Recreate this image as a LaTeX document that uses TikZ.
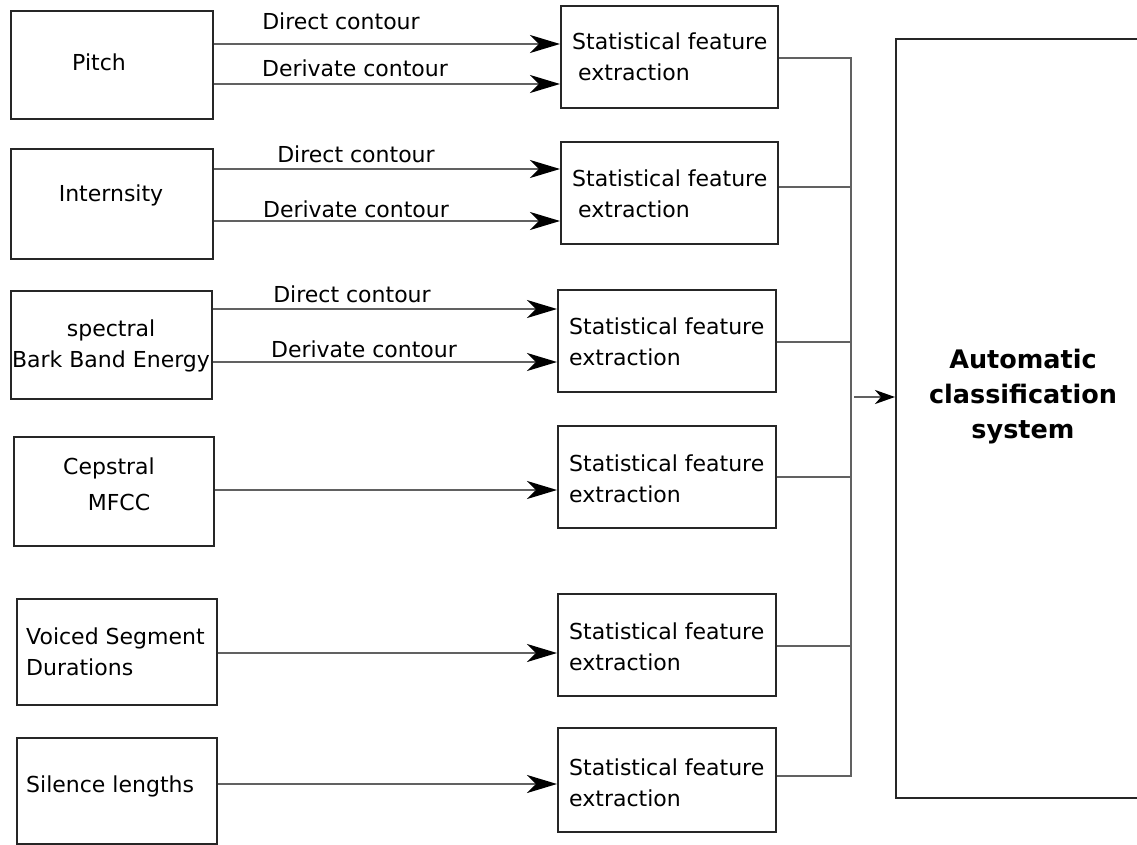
\documentclass[tikz,border=0pt]{standalone}
\usepackage{fontspec}
\setmainfont{DejaVu Sans}
\usetikzlibrary{arrows.meta}
\begin{document}
\begin{tikzpicture}[x=1pt,y=-1pt,
  box/.style={draw=black!85,line width=1.6pt,anchor=north west,inner sep=0pt,minimum width=#1},
  txt/.style={font=\fontsize{22}{31}\selectfont,inner sep=0pt},
  wire/.style={draw=black!62,line width=2.3pt},
  feed/.style={wire,-{Stealth[length=30pt,width=18pt,inset=9pt,color=black]}},
  big/.style={font=\fontsize{25.5}{35}\selectfont\bfseries,align=center,inner sep=0pt}]
\useasboundingbox (0,0) rectangle (1137,845);

% feature sources
\node[box=202pt,minimum height=108pt] (pitch) at (10,10) {};
\node[box=202pt,minimum height=110pt] (inten) at (10,148) {};
\node[box=201pt,minimum height=108pt] (spec)  at (10,290) {};
\node[box=200pt,minimum height=109pt] (ceps)  at (13,436) {};
\node[box=200pt,minimum height=106pt] (voic)  at (16,598) {};
\node[box=200pt,minimum height=106pt] (sil)   at (16,737) {};

\node[txt] (tpitch) at (99,62) {Pitch};
\node[txt] (tinten) at (111,195) {Internsity};
\node[txt,align=center] (tspec) at (111,346) {spectral\\Bark Band Energy};
\node[txt] (tceps1) at (109,468) {Cepstral};
\node[txt] (tceps2) at (119,502) {MFCC};
\node[txt,anchor=west,align=left] (tvoic) at (26,652) {Voiced Segment\\Durations};
\node[txt,anchor=west] (tsil) at (26,786) {Silence lengths};

% statistical feature extraction blocks
\node[box=217pt,minimum height=102pt] (sfe1) at (560,5) {};
\node[box=217pt,minimum height=102pt] (sfe2) at (560,141) {};
\node[box=218pt,minimum height=102pt] (sfe3) at (557,289) {};
\node[box=218pt,minimum height=102pt] (sfe4) at (557,425) {};
\node[box=218pt,minimum height=102pt] (sfe5) at (557,593) {};
\node[box=218pt,minimum height=104pt] (sfe6) at (557,727) {};

\node[txt,anchor=west,align=left] (tsfe1) at (572,57) {Statistical feature\\\hspace*{6pt}extraction};
\node[txt,anchor=west,align=left] (tsfe2) at (572,194) {Statistical feature\\\hspace*{6pt}extraction};
\node[txt,anchor=west,align=left] (tsfe3) at (569,342) {Statistical feature\\extraction};
\node[txt,anchor=west,align=left] (tsfe4) at (569,479) {Statistical feature\\extraction};
\node[txt,anchor=west,align=left] (tsfe5) at (569,647) {Statistical feature\\extraction};
\node[txt,anchor=west,align=left] (tsfe6) at (569,783) {Statistical feature\\extraction};

% classifier
\node[box=260pt,minimum height=759pt] (cls) at (895,38) {};
\node[big] (tcls) at (1023,397) {Automatic\\classification\\system};

% contours into the extraction blocks
\draw[feed] (pitch.east |- 0,44)  -- (sfe1.west |- 0,44);
\draw[feed] (pitch.east |- 0,84)  -- (sfe1.west |- 0,84);
\draw[feed] (inten.east |- 0,169) -- (sfe2.west |- 0,169);
\draw[feed] (inten.east |- 0,221) -- (sfe2.west |- 0,221);
\draw[feed] (spec.east |- 0,309)  -- (sfe3.west |- 0,309);
\draw[feed] (spec.east |- 0,362)  -- (sfe3.west |- 0,362);
\draw[feed] (ceps.east |- 0,490)  -- (sfe4.west |- 0,490);
\draw[feed] (voic.east |- 0,653)  -- (sfe5.west |- 0,653);
\draw[feed] (sil.east |- 0,784)   -- (sfe6.west |- 0,784);

\node[txt] (l1) at (341,21)  {Direct contour};
\node[txt] (l2) at (355,68)  {Derivate contour};
\node[txt] (l3) at (356,154) {Direct contour};
\node[txt] (l4) at (356,209) {Derivate contour};
\node[txt] (l5) at (352,294) {Direct contour};
\node[txt] (l6) at (364,349) {Derivate contour};

% collecting bus
\coordinate (bt) at (851,58);
\coordinate (bb) at (851,776);
\draw[wire] (sfe1.east |- bt) -- (bt) -- (bb) -- (sfe6.east |- bb);
\draw[wire] (sfe2.east |- 0,187) -- (851,187);
\draw[wire] (sfe3.east |- 0,342) -- (851,342);
\draw[wire] (sfe4.east |- 0,477) -- (851,477);
\draw[wire] (sfe5.east |- 0,646) -- (851,646);
\draw[wire,-{Stealth[length=20pt,width=14pt,inset=6pt,color=black]}] (854,397) -- (cls.west |- 0,397);
\end{tikzpicture}
\end{document}
